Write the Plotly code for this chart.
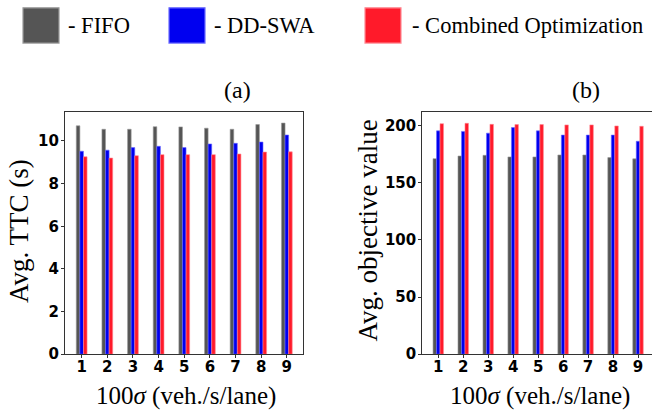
import plotly.graph_objects as go

categories = [1, 2, 3, 4, 5, 6, 7, 8, 9]
series_names = ["FIFO", "DD-SWA", "Combined Optimization"]
ttc_fifo = [10.71, 10.55, 10.55, 10.67, 10.66, 10.60, 10.55, 10.77, 10.84]
ttc_ddswa = [9.52, 9.57, 9.69, 9.75, 9.69, 9.86, 9.89, 9.95, 10.28]
ttc_comb = [9.26, 9.20, 9.31, 9.36, 9.36, 9.36, 9.39, 9.48, 9.49]
obj_fifo = [171.1, 173.4, 174.0, 172.6, 172.6, 174.3, 174.3, 172.0, 170.9]
obj_ddswa = [195.4, 194.9, 193.4, 198.3, 195.4, 191.7, 191.7, 191.7, 186.3]
obj_comb = [201.7, 202.0, 201.1, 200.9, 200.9, 200.6, 200.6, 199.7, 199.4]

colors = ["#555555", "#0000f0", "#ff1a2a"]
edge_colors = ["#9a9a9a", "#6a6aff", "#ff8a94"]

W, H = 652, 419
fig = go.Figure()

def px_x(p):
    return p / W

def px_y(p):
    return 1 - p / H

for vals, name, c, ec in zip([ttc_fifo, ttc_ddswa, ttc_comb], series_names, colors, edge_colors):
    fig.add_trace(go.Bar(x=categories, y=vals, name=name, marker=dict(color=c, line=dict(color=ec, width=0.6)),
                         xaxis="x", yaxis="y", showlegend=False))
for vals, name, c, ec in zip([obj_fifo, obj_ddswa, obj_comb], series_names, colors, edge_colors):
    fig.add_trace(go.Bar(x=categories, y=vals, name=name, marker=dict(color=c, line=dict(color=ec, width=0.6)),
                         xaxis="x2", yaxis="y2", showlegend=False))

tickfont = dict(family="DejaVu Sans", size=15, color="black", weight="bold")
serif = "Liberation Serif"
axcommon = dict(showgrid=False, zeroline=False, showline=True, linecolor="#333333", linewidth=1.2,
                ticks="outside", ticklen=3, tickwidth=1, tickcolor="#333333", tickfont=tickfont)
xcommon = dict(axcommon, ticklabelstandoff=-4)
ycommon = dict(axcommon, ticklabelstandoff=-1)

ydom = [px_y(362), px_y(114)]
fig.update_layout(
    width=W, height=H, margin=dict(l=0, r=0, t=0, b=0),
    plot_bgcolor="white", paper_bgcolor="white",
    barmode="group", bargap=0.58, bargroupgap=0,
    xaxis=dict(domain=[px_x(65), px_x(303)], range=[0.35, 9.63], tickvals=categories, mirror=True,
               anchor="y", **xcommon),
    yaxis=dict(domain=ydom, range=[0, 11.38], dtick=2, mirror=True, anchor="x", **ycommon),
    xaxis2=dict(domain=[px_x(422.3), 1.0], range=[0.36, 9.56], tickvals=categories, mirror=True,
                anchor="y2", **xcommon),
    yaxis2=dict(domain=ydom, range=[0, 212.3], dtick=50, mirror=False, anchor="x2", **ycommon),
    showlegend=False,
)

annotations = []
annotations.append(dict(text="Avg. TTC (s)", x=px_x(19), y=px_y(236), xref="paper", yref="paper",
                        textangle=-90, showarrow=False, font=dict(family=serif, size=27, color="black"),
                        xanchor="center", yanchor="middle"))
annotations.append(dict(text="Avg. objective value", x=px_x(368), y=px_y(235.5), xref="paper", yref="paper",
                        textangle=-90, showarrow=False, font=dict(family=serif, size=27, color="black"),
                        xanchor="center", yanchor="middle"))
for cx in [186, 540]:
    annotations.append(dict(text="100<i>σ</i> (veh./s/lane)", x=px_x(cx), y=px_y(405), xref="paper", yref="paper",
                            showarrow=False, font=dict(family=serif, size=25, color="black"),
                            xanchor="center", yanchor="middle"))
for lab, cx in [("(a)", 237), ("(b)", 586)]:
    annotations.append(dict(text=lab, x=px_x(cx), y=px_y(92), xref="paper", yref="paper",
                            showarrow=False, font=dict(family=serif, size=24, color="black"),
                            xanchor="center", yanchor="middle"))

shapes = []
leg_sq_x = [23, 169, 365]
leg_txt_x = [66, 212, 410]
for name, c, ec, sx, tx in zip(series_names, colors, edge_colors, leg_sq_x, leg_txt_x):
    shapes.append(dict(type="rect", xref="paper", yref="paper", x0=px_x(sx), x1=px_x(sx + 36),
                       y0=px_y(44), y1=px_y(8), fillcolor=c, line=dict(color=ec, width=1.2)))
    annotations.append(dict(text="- " + name, x=px_x(tx), y=px_y(26), xref="paper", yref="paper",
                            showarrow=False, font=dict(family=serif, size=22.5, color="black"),
                            xanchor="left", yanchor="middle"))

fig.update_layout(annotations=annotations, shapes=shapes)
fig.write_html("out.html", config={"displayModeBar": False},
               post_script="document.body.style.margin='0';document.body.style.overflow='hidden';")
